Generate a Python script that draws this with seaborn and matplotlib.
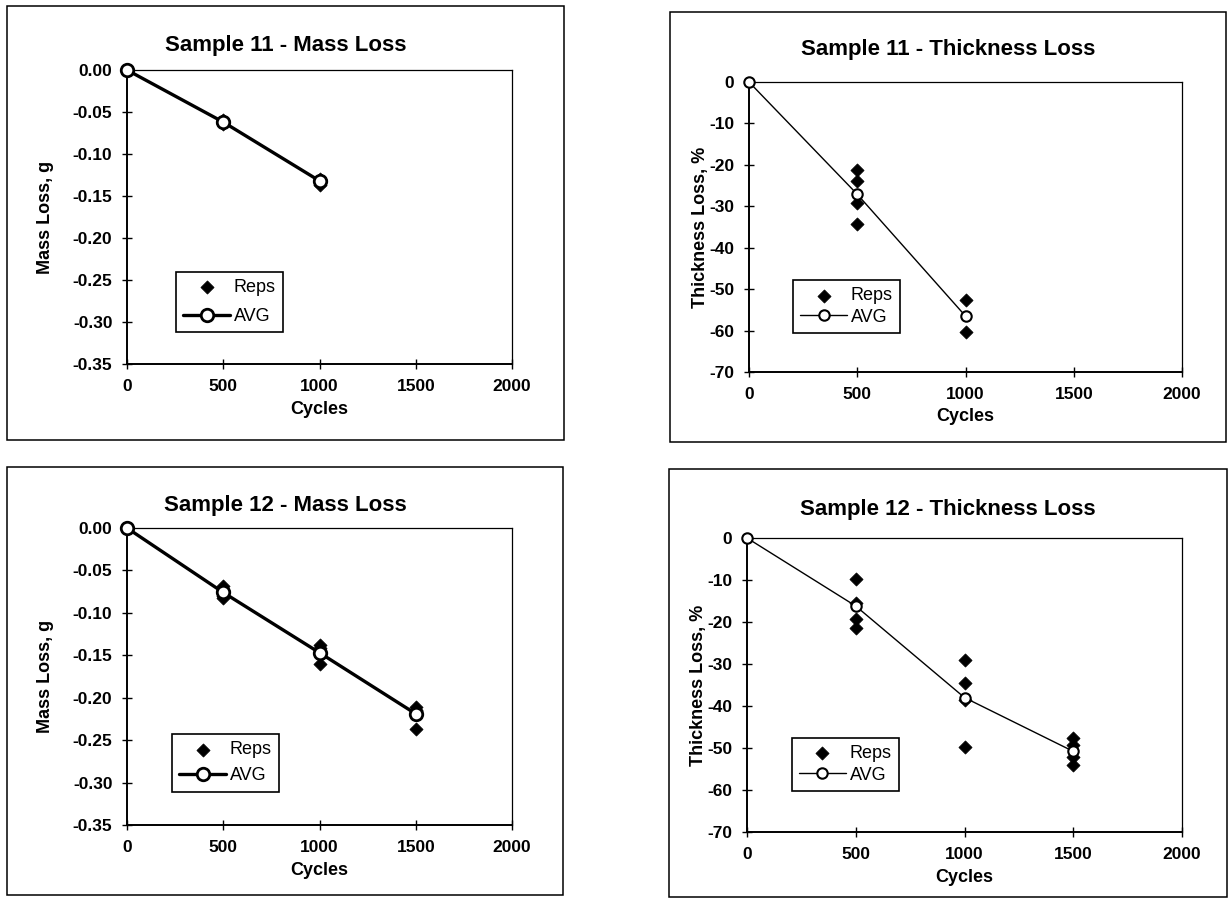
import matplotlib
matplotlib.use("Agg")
import matplotlib.pyplot as plt
from matplotlib.patches import Rectangle
from matplotlib.ticker import FormatStrFormatter
from matplotlib.font_manager import FontProperties
import seaborn as sns

# ---------------- data ----------------
titles = ["Sample 11 - Mass Loss", "Sample 11 - Thickness Loss",
          "Sample 12 - Mass Loss", "Sample 12 - Thickness Loss"]
ylabels = ["Mass Loss, g", "Thickness Loss, %", "Mass Loss, g", "Thickness Loss, %"]
xlabel = "Cycles"
legend_labels = ["Reps", "AVG"]
xticks = [0, 500, 1000, 1500, 2000]
mass_yticks = [0.00, -0.05, -0.10, -0.15, -0.20, -0.25, -0.30, -0.35]
thick_yticks = [0, -10, -20, -30, -40, -50, -60, -70]

# Sample 11
s11_avg_cycles = [0, 500, 1000]
s11_mass_avg = [0.0, -0.062, -0.132]
s11_mass_rep_cycles = [500, 500, 500, 1000, 1000, 1000]
s11_mass_reps = [-0.060, -0.062, -0.064, -0.130, -0.133, -0.137]
s11_thick_avg = [0.0, -27.1, -56.5]
s11_thick_rep_cycles = [500, 500, 500, 500, 1000, 1000]
s11_thick_reps = [-21.2, -23.9, -29.2, -34.2, -52.5, -60.4]

# Sample 12
s12_avg_cycles = [0, 500, 1000, 1500]
s12_mass_avg = [0.0, -0.076, -0.147, -0.219]
s12_mass_rep_cycles = [500, 500, 500, 500, 1000, 1000, 1000, 1000, 1500, 1500, 1500, 1500]
s12_mass_reps = [-0.068, -0.073, -0.080, -0.082,
                 -0.138, -0.142, -0.146, -0.160,
                 -0.211, -0.214, -0.216, -0.237]
s12_thick_avg = [0.0, -16.2, -38.0, -50.8]
s12_thick_rep_cycles = [500, 500, 500, 500, 1000, 1000, 1000, 1000, 1500, 1500, 1500, 1500]
s12_thick_reps = [-9.8, -15.4, -19.4, -21.5,
                  -29.0, -34.6, -38.5, -49.8,
                  -47.7, -49.4, -52.2, -54.0]

# ---------------- style ----------------
sns.set_theme(style="ticks", rc={
    "text.color": "black", "axes.labelcolor": "black",
    "xtick.color": "black", "ytick.color": "black",
    "axes.edgecolor": "black", "axes.unicode_minus": False,
})
plt.rcParams["font.family"] = ["Liberation Sans", "DejaVu Sans"]
plt.rcParams["axes.unicode_minus"] = False

W, H = 1229, 899
fig = plt.figure(figsize=(W / 100, H / 100), dpi=100)


def frac_rect(x0, y0, x1, y1):
    return [x0 / W, 1 - y1 / H, (x1 - x0) / W, (y1 - y0) / H]


panels = [
    dict(axes=(127, 70, 512, 364), frame=(7, 6, 564, 440), title_y=45,
         avg_x=s11_avg_cycles, avg_y=s11_mass_avg,
         rep_x=s11_mass_rep_cycles, rep_y=s11_mass_reps,
         kind="mass", leg=(0.127, 0.313), legsp=0.65, ylab_x=-0.19),
    dict(axes=(749, 82, 1182, 372), frame=(670, 12, 1226, 442), title_y=50,
         avg_x=s11_avg_cycles, avg_y=s11_thick_avg,
         rep_x=s11_thick_rep_cycles, rep_y=s11_thick_reps,
         kind="thick", leg=(0.102, 0.317), legsp=0.25, ylab_x=-0.092),
    dict(axes=(127, 528, 512, 825), frame=(7, 467, 563, 895), title_y=506,
         avg_x=s12_avg_cycles, avg_y=s12_mass_avg,
         rep_x=s12_mass_rep_cycles, rep_y=s12_mass_reps,
         kind="mass", leg=(0.117, 0.306), legsp=0.5, ylab_x=-0.19),
    dict(axes=(747, 538, 1182, 832), frame=(669, 469, 1227, 897), title_y=510,
         avg_x=s12_avg_cycles, avg_y=s12_thick_avg,
         rep_x=s12_thick_rep_cycles, rep_y=s12_thick_reps,
         kind="thick", leg=(0.103, 0.32), legsp=0.25, ylab_x=-0.092),
]

for i, p in enumerate(panels):
    ax = fig.add_axes(frac_rect(*p["axes"]))
    fx0, fy0, fx1, fy1 = p["frame"]
    fig.add_artist(Rectangle((fx0 / W, 1 - fy1 / H), (fx1 - fx0) / W, (fy1 - fy0) / H,
                             transform=fig.transFigure, fill=False,
                             edgecolor="black", linewidth=1.1))
    fig.text((fx0 + fx1) / 2 / W, 1 - p["title_y"] / H, titles[i],
             ha="center", va="center", fontsize=16, fontweight="bold")

    mass = p["kind"] == "mass"
    lw = 2.4 if mass else 1.0
    ms = 9.0 if mass else 7.5
    mew = 2.0 if mass else 1.5

    sns.scatterplot(x=p["rep_x"], y=p["rep_y"], ax=ax, marker="D", color="black",
                    s=45, edgecolor="black", linewidth=0.5, label=legend_labels[0],
                    zorder=3, clip_on=False)
    sns.lineplot(x=p["avg_x"], y=p["avg_y"], ax=ax, color="black", linewidth=lw,
                 marker="o", markersize=ms, markerfacecolor="white",
                 markeredgecolor="black", markeredgewidth=mew,
                 label=legend_labels[1], zorder=4, clip_on=False, estimator=None)

    ax.set_xlim(0, 2000)
    ax.set_xticks(xticks)
    if mass:
        ax.set_ylim(-0.35, 0.0)
        ax.set_yticks(mass_yticks)
        ax.yaxis.set_major_formatter(FormatStrFormatter("%.2f"))
    else:
        ax.set_ylim(-70, 0)
        ax.set_yticks(thick_yticks)

    ax.tick_params(axis="both", which="major", direction="inout", length=7,
                   width=1.0, labelsize=12.5, pad=7,
                   bottom=True, left=True, top=False, right=False)
    for lab in ax.get_xticklabels() + ax.get_yticklabels():
        lab.set_fontweight("bold")
    for side in ["left", "bottom"]:
        ax.spines[side].set_linewidth(1.4)
    for side in ["top", "right"]:
        ax.spines[side].set_linewidth(0.9)

    ax.set_xlabel(xlabel, fontsize=13, fontweight="bold")
    ax.xaxis.set_label_coords(0.5, -0.125)
    ax.set_ylabel(ylabels[i], fontsize=13, fontweight="bold")
    ax.yaxis.set_label_coords(p["ylab_x"], 0.5)

    handles, labels = ax.get_legend_handles_labels()
    order = [labels.index(l) for l in legend_labels]
    leg = ax.legend([handles[k] for k in order], [labels[k] for k in order],
                    loc="upper left", bbox_to_anchor=p["leg"], frameon=True,
                    fancybox=False, edgecolor="black", framealpha=1,
                    borderpad=0.4, labelspacing=p["legsp"], handlelength=2.6,
                    handletextpad=0.2, borderaxespad=0.0,
                    prop=FontProperties(family="Liberation Sans", size=13))
    leg.get_frame().set_linewidth(1.2)

fig.savefig("out.png", dpi=100, facecolor="white")
